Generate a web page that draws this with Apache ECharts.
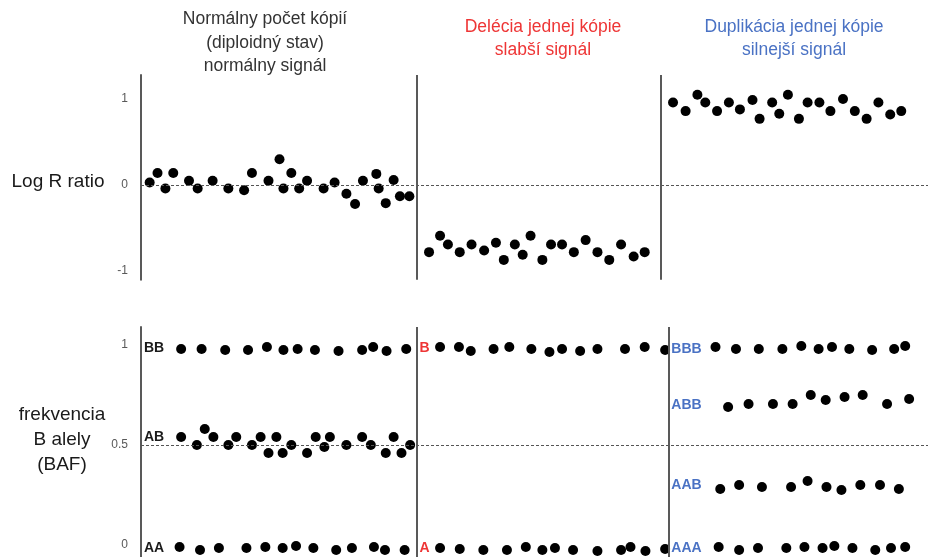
<!DOCTYPE html>
<html>
<head>
<meta charset="utf-8">
<script src="https://cdn.jsdelivr.net/npm/echarts@6/dist/echarts.min.js"></script>
<style>
  html, body { margin: 0; padding: 0; background: #fff; }
  #chart { width: 928px; height: 557px; }
</style>
</head>
<body>
<div id="chart"></div>
<script>
// Probe positions along the segment (arbitrary units, 0-100) and their Log R ratio values
const lrrNormalPos = [1.1, 2.1, 3.1, 4.1, 6.1, 7.2, 9.1, 11.1, 13.1, 14.1, 16.2, 17.6, 18.1, 19.1, 20.1, 21.1, 23.2, 24.6, 26.1, 27.2, 28.2, 29.9, 30.2, 31.1, 32.1, 32.9, 34.1];
const lrrNormal = [0.03, 0.14, -0.04, 0.14, 0.05, -0.04, 0.05, -0.04, -0.06, 0.14, 0.05, 0.30, -0.04, 0.14, -0.04, 0.05, -0.04, 0.03, -0.10, -0.22, 0.05, 0.13, -0.04, -0.21, 0.06, -0.13, -0.13];
const lrrDelPos = [36.6, 38.0, 39.0, 40.5, 42.0, 43.6, 45.1, 46.1, 47.5, 48.5, 49.5, 51.0, 52.1, 53.5, 55.0, 56.5, 58.0, 59.5, 61.0, 62.6, 64.0];
const lrrDel = [-0.78, -0.59, -0.69, -0.78, -0.69, -0.76, -0.67, -0.87, -0.69, -0.81, -0.59, -0.87, -0.69, -0.69, -0.78, -0.64, -0.78, -0.87, -0.69, -0.83, -0.78];
const lrrDupPos = [67.6, 69.2, 70.7, 71.7, 73.2, 74.7, 76.1, 77.7, 78.6, 80.2, 81.1, 82.2, 83.6, 84.7, 86.2, 87.6, 89.2, 90.7, 92.2, 93.7, 95.2, 96.6];
const lrrDup = [0.96, 0.86, 1.05, 0.96, 0.86, 0.96, 0.88, 0.99, 0.77, 0.96, 0.83, 1.05, 0.77, 0.96, 0.96, 0.86, 1.00, 0.86, 0.77, 0.96, 0.82, 0.86];

// B allele frequency, normal copy number (BB / AB / AA clusters)
const bafNormalBBPos = [5.1, 7.7, 10.7, 13.6, 16.0, 18.1, 19.9, 22.1, 25.1, 28.1, 29.5, 31.2, 33.7];
const bafNormalBB = [0.98, 0.98, 0.975, 0.975, 0.99, 0.975, 0.98, 0.975, 0.97, 0.975, 0.99, 0.97, 0.98];
const bafNormalABPos = [5.1, 7.1, 8.1, 9.2, 11.1, 12.1, 14.1, 15.2, 16.2, 17.2, 18.0, 19.1, 21.1, 22.2, 23.3, 24.0, 26.1, 28.1, 29.2, 31.1, 32.1, 33.1, 34.2];
const bafNormalAB = [0.54, 0.50, 0.58, 0.54, 0.50, 0.54, 0.50, 0.54, 0.46, 0.54, 0.46, 0.50, 0.46, 0.54, 0.49, 0.54, 0.50, 0.54, 0.50, 0.46, 0.54, 0.46, 0.50];
const bafNormalAAPos = [4.9, 7.5, 9.9, 13.4, 15.8, 18.0, 19.7, 21.9, 24.8, 26.8, 29.6, 31.0, 33.5];
const bafNormalAA = [-0.01, -0.025, -0.015, -0.015, -0.01, -0.015, -0.005, -0.015, -0.025, -0.015, -0.01, -0.025, -0.025];

// B allele frequency, single-copy deletion (B / A)
const bafDelBPos = [38.0, 40.4, 41.9, 44.8, 46.8, 49.6, 51.9, 53.5, 55.8, 58.0, 61.5, 64.0, 66.6];
const bafDelB = [0.99, 0.99, 0.97, 0.98, 0.99, 0.98, 0.965, 0.98, 0.97, 0.98, 0.98, 0.99, 0.975];
const bafDelAPos = [38.0, 40.5, 43.5, 46.5, 48.9, 51.0, 52.6, 54.9, 58.0, 61.0, 62.2, 64.1, 66.6];
const bafDelA = [-0.015, -0.02, -0.025, -0.025, -0.01, -0.025, -0.015, -0.025, -0.03, -0.025, -0.01, -0.03, -0.02];

// B allele frequency, single-copy duplication (BBB / ABB / AAB / AAA)
const bafDupBBBPos = [73.0, 75.6, 78.5, 81.5, 83.9, 86.1, 87.8, 90.0, 92.9, 95.7, 97.1];
const bafDupBBB = [0.99, 0.98, 0.98, 0.98, 0.995, 0.98, 0.99, 0.98, 0.975, 0.98, 0.995];
const bafDupABBPos = [74.6, 77.2, 80.3, 82.8, 85.1, 87.0, 89.4, 91.7, 94.8, 97.6];
const bafDupABB = [0.69, 0.705, 0.705, 0.705, 0.75, 0.725, 0.74, 0.75, 0.705, 0.73];
const bafDupAABPos = [73.6, 76.0, 78.9, 82.6, 84.7, 87.1, 89.0, 91.4, 93.9, 96.3];
const bafDupAAB = [0.28, 0.30, 0.29, 0.29, 0.32, 0.29, 0.275, 0.30, 0.30, 0.28];
const bafDupAAAPos = [73.4, 76.0, 78.4, 82.0, 84.3, 86.6, 88.1, 90.4, 93.3, 95.3, 97.1];
const bafDupAAA = [-0.01, -0.025, -0.015, -0.015, -0.01, -0.015, -0.005, -0.015, -0.025, -0.015, -0.01];

// Segment boundaries (same position units) and axis tick labels
const lrrSegmentBreaks = [35.0, 66.1];
const bafSegmentBreaks = [35.0, 67.0];
const lrrTicks = [-1, 0, 1];
const bafTicks = [0, 0.5, 1];

// Genotype names and their expected BAF levels, per segment
const genotypesNormal = ['BB', 'AB', 'AA'];
const genotypeLevelsNormal = [1, 0.5, 0];
const genotypesDel = ['B', 'A'];
const genotypeLevelsDel = [1, 0];
const genotypesDup = ['BBB', 'ABB', 'AAB', 'AAA'];
const genotypeLevelsDup = [1, 2 / 3, 1 / 3, 0];

// Segment headings
const headingNormal = ['Normálny počet kópií', '(diploidný stav)', 'normálny signál'];
const headingDel = ['Delécia jednej kópie', 'slabší signál'];
const headingDup = ['Duplikácia jednej kópie', 'silnejší signál'];
const nameLrr = 'Log R ratio';
const nameBaf = ['frekvencia', 'B alely', '(BAF)'];

const FONT = '"Liberation Sans", Arial, sans-serif';
const RED = '#EE3535';
const BLUE = '#4A72C4';
const DARK = '#333333';
const AXIS_GRAY = '#595959';

const zip = (xs, ys) => xs.map((x, i) => [x, ys[i]]);

function dots(name, xs, ys, gridIdx) {
  return {
    name: name,
    type: 'scatter',
    xAxisIndex: gridIdx,
    yAxisIndex: gridIdx,
    symbol: 'circle',
    symbolSize: 10,
    itemStyle: { color: '#000', opacity: 1 },
    data: zip(xs, ys),
    clip: false,
    silent: true
  };
}

function genotypeLabels(names, levels, segStart, color, dyList) {
  return {
    type: 'scatter',
    xAxisIndex: 1,
    yAxisIndex: 1,
    symbolSize: 0,
    silent: true,
    clip: false,
    itemStyle: { opacity: 1 },
    data: names.map((n, i) => ({
      value: [segStart, levels[i]],
      label: {
        show: true,
        position: 'right',
        distance: 0,
        offset: [3, dyList[i]],
        formatter: n,
        color: color,
        opacity: 1,
        fontFamily: FONT,
        fontWeight: 'bold',
        fontSize: 14
      }
    }))
  };
}

function vLines(breaks, gridIdx) {
  return {
    type: 'scatter',
    xAxisIndex: gridIdx,
    yAxisIndex: gridIdx,
    data: [],
    silent: true,
    markLine: {
      silent: true,
      symbol: 'none',
      label: { show: false },
      lineStyle: { color: AXIS_GRAY, width: 2, type: 'solid', opacity: 1 },
      data: breaks.map(b => ({ xAxis: b }))
    }
  };
}

function hDashed(level, gridIdx) {
  return {
    type: 'scatter',
    xAxisIndex: gridIdx,
    yAxisIndex: gridIdx,
    data: [],
    silent: true,
    markLine: {
      silent: true,
      symbol: 'none',
      label: { show: false },
      lineStyle: { color: '#555', width: 1, type: [3, 2], opacity: 1 },
      data: [{ yAxis: level }]
    }
  };
}

function textBlock(lines, x, y, color, size, lh, vAlign) {
  return {
    type: 'text',
    x: x,
    y: y,
    silent: true,
    style: {
      text: lines.join('\n'),
      align: 'center',
      verticalAlign: vAlign,
      fill: color,
      fontFamily: FONT,
      fontSize: size,
      lineHeight: lh
    }
  };
}

const yAxisBase = {
  type: 'value',
  axisLine: { show: true, lineStyle: { color: AXIS_GRAY, width: 2 } },
  axisTick: { show: false },
  splitLine: { show: false },
  axisLabel: { color: AXIS_GRAY, fontSize: 12, fontFamily: FONT, margin: 13 }
};

const option = {
  animation: false,
  backgroundColor: '#fff',
  grid: [
    { left: 141, right: 0, top: 75, height: 204.68 },
    { left: 141, right: 0, top: 327, height: 230 }
  ],
  xAxis: [
    { type: 'value', gridIndex: 0, min: 0, max: 100, show: false },
    { type: 'value', gridIndex: 1, min: 0, max: 100, show: false }
  ],
  yAxis: [
    Object.assign({}, yAxisBase, {
      gridIndex: 0, min: -1.1, max: 1.28,
      axisLabel: Object.assign({}, yAxisBase.axisLabel, { customValues: lrrTicks })
    }),
    Object.assign({}, yAxisBase, {
      gridIndex: 1, min: -0.06, max: 1.09,
      axisLabel: Object.assign({}, yAxisBase.axisLabel, { customValues: bafTicks })
    })
  ],
  graphic: [
    textBlock(headingNormal, 265, 7.5, DARK, 17.5, 23.5, 'top'),
    textBlock(headingDel, 543, 15, RED, 17.5, 23.5, 'top'),
    textBlock(headingDup, 794, 15, BLUE, 17.5, 23.5, 'top'),
    textBlock([nameLrr], 58, 182, '#1a1a1a', 19, 24, 'middle'),
    textBlock(nameBaf, 62, 440, '#1a1a1a', 19, 25, 'middle')
  ],
  series: [
    hDashed(0, 0),
    hDashed(0.5, 1),
    vLines(lrrSegmentBreaks, 0),
    vLines(bafSegmentBreaks, 1),
    dots('LRR normal', lrrNormalPos, lrrNormal, 0),
    dots('LRR deletion', lrrDelPos, lrrDel, 0),
    dots('LRR duplication', lrrDupPos, lrrDup, 0),
    dots('BAF BB', bafNormalBBPos, bafNormalBB, 1),
    dots('BAF AB', bafNormalABPos, bafNormalAB, 1),
    dots('BAF AA', bafNormalAAPos, bafNormalAA, 1),
    dots('BAF B', bafDelBPos, bafDelB, 1),
    dots('BAF A', bafDelAPos, bafDelA, 1),
    dots('BAF BBB', bafDupBBBPos, bafDupBBB, 1),
    dots('BAF ABB', bafDupABBPos, bafDupABB, 1),
    dots('BAF AAB', bafDupAABPos, bafDupAAB, 1),
    dots('BAF AAA', bafDupAAAPos, bafDupAAA, 1),
    genotypeLabels(genotypesNormal, genotypeLevelsNormal, 0, '#1a1a1a', [3, -8, 3]),
    genotypeLabels(genotypesDel, genotypeLevelsDel, bafSegmentBreaks[0], RED, [3, 3]),
    genotypeLabels(genotypesDup, genotypeLevelsDup, bafSegmentBreaks[1], BLUE, [4, -7, 7, 3])
  ]
};

const chart = echarts.init(document.getElementById('chart'), null, { renderer: 'canvas' });
chart.setOption(option);
</script>
</body>
</html>
